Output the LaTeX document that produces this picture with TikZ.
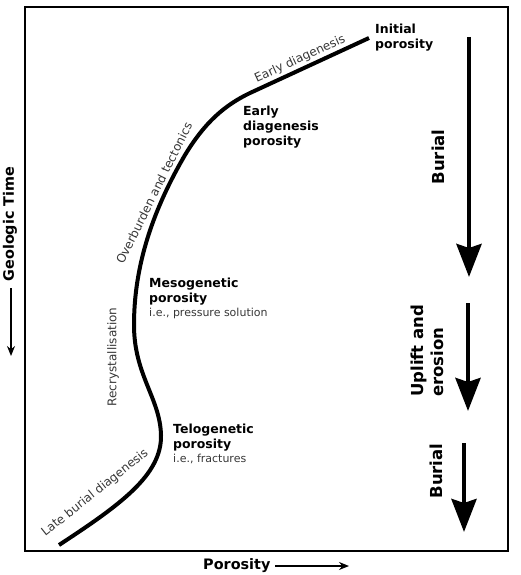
\documentclass[tikz,border=0pt]{standalone}
\usepackage{fontspec}
\setmainfont{DejaVu Sans}
\usepackage{tikz}
\usetikzlibrary{arrows.meta,positioning}
\usepackage{xcolor}
\definecolor{notegray}{RGB}{55,55,55}
\tikzset{
  stage/.style={font=\fontsize{12.5}{15}\selectfont\bfseries,align=left,inner sep=0pt,anchor=north west},
  procnote/.style={font=\fontsize{12}{14}\selectfont,text=notegray,inner sep=0pt},
  axislabel/.style={font=\fontsize{14.4}{17}\selectfont\bfseries,inner sep=0pt},
  movelabel/.style={font=\fontsize{16.5}{20}\selectfont\bfseries,inner sep=0pt,rotate=90,align=left},
  movearrow/.style={line width=4.5pt,-{Stealth[length=33pt,width=25pt,inset=4pt]}},
  axisarrow/.style={line width=1.4pt,-{Stealth[length=10pt,width=8pt]}}
}
\newcommand{\eg}[1]{\\[-1pt]{\fontsize{11}{13}\selectfont\mdseries\color{notegray}#1}}

\begin{document}
\begin{tikzpicture}[x=1pt,y=-1pt]
  \useasboundingbox (0,0) rectangle (520,575);
  % plot frame
  \draw[line width=2.6pt] (25,7) rectangle (508,551);

  % porosity path through geologic time
  \coordinate (start) at (59,545);
  \coordinate (telo) at (161,435);
  \coordinate (meso) at (134,325);
  \coordinate (knee) at (250,93);
  \coordinate (init) at (369,38);
  \draw[line width=4pt] (start) .. controls (120,505) and (162,475) .. (telo)
    .. controls (160,398) and (134,375) .. (meso)
    .. controls (134,270) and (150,215) .. (185,155)
    .. controls (205,122) and (225,105) .. (knee) -- (init);

  % processes along the path
  \node[procnote,rotate=24.8] (earlydia) at (300,59) {Early diagenesis};
  \node[procnote,rotate=63.6] (overburden) at (154,193) {Overburden and tectonics};
  \node[procnote,rotate=90] (recryst) at (113,357) {Recrystallisation};
  \node[procnote,rotate=38.5] (lateburial) at (95,493) {Late burial diagenesis};

  % porosity types
  \node[stage] (initial) at (375,23.5) {Initial\\porosity};
  \node[stage] (earlypor) at (243,105.5) {Early\\diagenesis\\porosity};
  \node[stage] (mesopor) at (149,277.5) {Mesogenetic\\porosity\eg{i.e., pressure solution}};
  \node[stage] (telopor) at (173,423.5) {Telogenetic\\porosity\eg{i.e., fractures}};

  % burial and uplift
  \coordinate (b1top) at (469,37);
  \coordinate (b1end) at (469,277);
  \coordinate (u1top) at (468,303);
  \coordinate (u1end) at (468,411);
  \coordinate (b2top) at (464,443);
  \coordinate (b2end) at (464,532);
  \draw[movearrow] (b1top) -- (b1end);
  \draw[movearrow] (u1top) -- (u1end);
  \draw[movearrow] (b2top) -- (b2end);
  \node[movelabel] (burial1) at (438,157) {Burial};
  \node[movelabel,anchor=west] (uplift) at (427,397) {Uplift and\\erosion};
  \node[movelabel] (burial2) at (436,471) {Burial};

  % axes
  \node[axislabel,rotate=90] (timelbl) at (10,224) {Geologic Time};
  \coordinate (timetop) at (11,288);
  \coordinate (timeend) at (11,356);
  \draw[axisarrow] (timetop) -- (timeend);
  \node[axislabel,anchor=base west] (porlbl) at (203,569) {Porosity};
  \coordinate (porstart) at (275,566);
  \coordinate (porend) at (349,566);
  \draw[axisarrow] (porstart) -- (porend);
\end{tikzpicture}
\end{document}
